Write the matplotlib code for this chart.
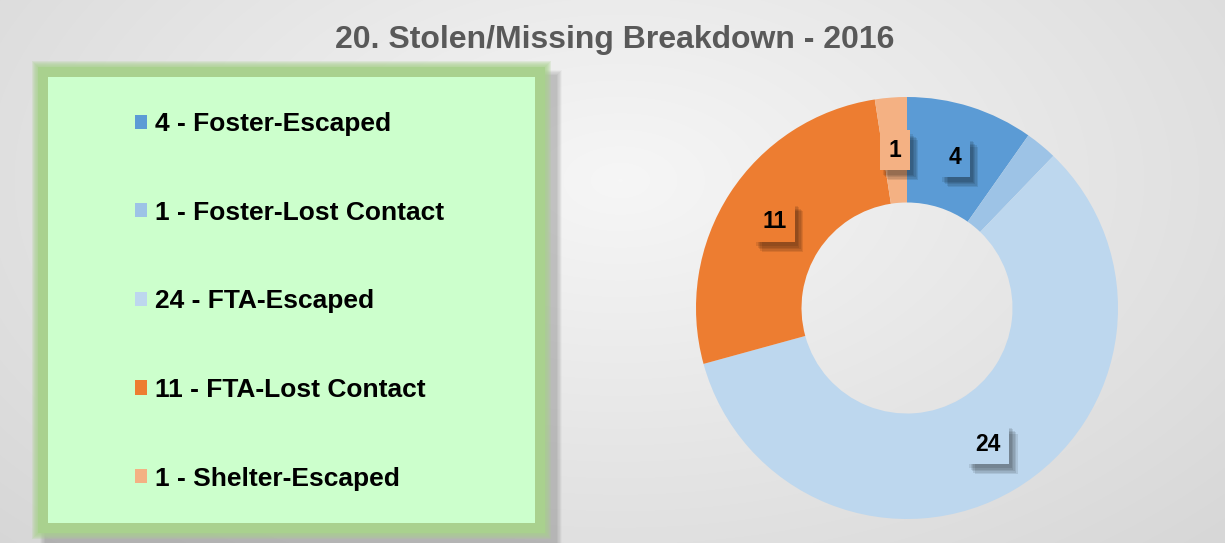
import numpy as np
import matplotlib
matplotlib.use("Agg")
import matplotlib.pyplot as plt
from matplotlib.patches import Rectangle
import matplotlib.patheffects as pe

plt.rcParams['font.family'] = ['Liberation Sans', 'DejaVu Sans']

# ---- data ----
categories = ["Foster-Escaped", "Foster-Lost Contact", "FTA-Escaped", "FTA-Lost Contact", "Shelter-Escaped"]
values = [4, 1, 24, 11, 1]
show_label = [True, False, True, True, True]
colors = ["#5B9BD5", "#9DC3E6", "#BDD7EE", "#ED7D31", "#F4B183"]
title = "20. Stolen/Missing Breakdown - 2016"

W, H = 1225, 543
fig = plt.figure(figsize=(W / 100, H / 100), dpi=100)

# background gradient
bg = fig.add_axes([0, 0, 1, 1])
yy, xx = np.mgrid[0:H, 0:W]
d = np.sqrt(((xx - 620) / 700.0) ** 2 + ((yy - 180) / 420.0) ** 2)
v = np.clip(0.965 - 0.10 * d, 0.82, 0.97)
bg.imshow(np.dstack([v, v, v]), extent=[0, W, H, 0], aspect='auto', zorder=0)
bg.set_xlim(0, W)
bg.set_ylim(H, 0)
bg.axis('off')

# legend panel: shadow, green glow, light green box
for i in range(10):
    bg.add_patch(Rectangle((36 + i * 0.6 + 4, 64 + i * 0.6 + 6), 522 - i * 1.2, 478 - i * 1.2,
                           facecolor='#808080', alpha=0.05, edgecolor='none', zorder=1))
for i in range(8):
    g = 8 - i
    bg.add_patch(Rectangle((40 - g, 69 - g), 503 + 2 * g, 462 + 2 * g,
                           facecolor='#A9D18E', alpha=0.22, edgecolor='none', zorder=2))
bg.add_patch(Rectangle((38, 67), 507, 466, facecolor='#A9D18E', edgecolor='none', zorder=3))
bg.add_patch(Rectangle((48, 77), 487, 446, facecolor='#CCFFCC', edgecolor='none', zorder=4))

# title
fig.text(615 / W, 1 - 40 / H, title, ha='center', va='center', fontsize=23,
         fontweight='bold', color='#595959')

# donut
cx, cy, R = 907, 308, 211
ax = fig.add_axes([(cx - R) / W, (H - cy - R) / H, 2 * R / W, 2 * R / H])
wedges, _ = ax.pie(values, colors=colors, startangle=90, counterclock=False,
                   radius=1.0, wedgeprops=dict(width=0.5, edgecolor='none'))
ax.set_xlim(-1, 1)
ax.set_ylim(-1, 1)
ax.set_aspect('equal')
ax.axis('off')

total = float(sum(values))
shadow = [pe.SimplePatchShadow(offset=(o, -o - 1), shadow_rgbFace='#000000', alpha=0.09)
          for o in (6, 5, 4, 3, 2)] + [pe.Normal()]
start = 90.0
for i, (val, show) in enumerate(zip(values, show_label)):
    span = 360.0 * val / total
    mid = np.deg2rad(start - span / 2)
    start -= span
    if not show:
        continue
    r = 0.75
    x, y = r * np.cos(mid), r * np.sin(mid)
    ax.text(x, y, str(val), ha='center', va='center', fontsize=16.5, fontweight='bold',
            color='black',
            bbox=dict(boxstyle='square,pad=0.38', facecolor=colors[i], edgecolor='none',
                      path_effects=shadow))

# legend
labels = [f"{v} - {c}" for v, c in zip(values, categories)]
leg = fig.legend(wedges, labels, loc='upper left', bbox_to_anchor=(135 / W, 1 - 112 / H),
                 frameon=False, prop=dict(weight='bold', size=19),
                 handlelength=0.45, handleheight=0.45, handletextpad=0.3,
                 labelspacing=2.45, borderpad=0, borderaxespad=0)
for t in leg.get_texts():
    t.set_color('black')

fig.savefig("out.png", dpi=100)
